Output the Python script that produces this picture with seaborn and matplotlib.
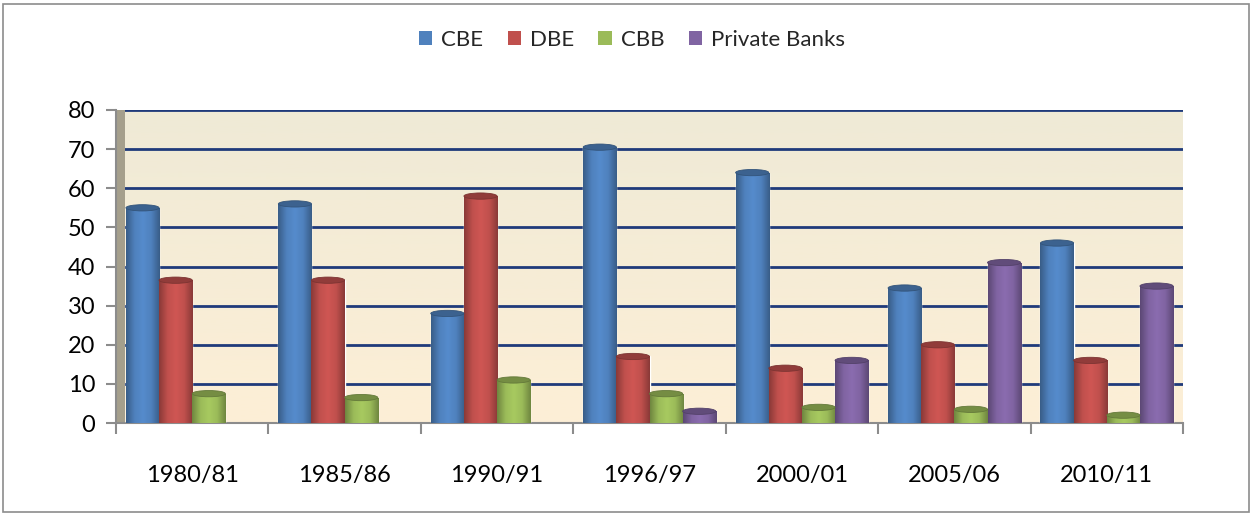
import numpy as np
import pandas as pd
import matplotlib
matplotlib.use("Agg")
import matplotlib.pyplot as plt
from matplotlib.patches import Rectangle, Ellipse, Patch
from matplotlib.colors import to_rgb, LinearSegmentedColormap
import seaborn as sns

# ---- data ----
years = ["1980/81", "1985/86", "1990/91", "1996/97", "2000/01", "2005/06", "2010/11"]
series = ["CBE", "DBE", "CBB", "Private Banks"]
cbe = [55, 56, 28, 70.5, 64, 34.5, 46]
dbe = [36.5, 36.5, 58, 17, 14, 20, 16]
cbb = [7.5, 6.5, 11, 7.5, 4, 3.5, 2]
private = [0, 0, 0, 3, 16, 41, 35]
colors = ["#4F81BD", "#C0504D", "#9BBB59", "#8064A2"]

df = pd.DataFrame({
    "year": years * 4,
    "bank": sum([[s] * len(years) for s in series], []),
    "value": cbe + dbe + cbb + private,
})

sns.set_theme(style="white")
plt.rcParams["font.family"] = ["Lato", "DejaVu Sans"]

fig = plt.figure(figsize=(12.53, 5.16), dpi=100)
ax = fig.add_axes([116 / 1253, 93 / 516, (1183 - 116) / 1253, (423 - 110) / 516])

sns.barplot(data=df, x="year", y="value", hue="bank", palette=colors,
            width=0.87, saturation=1, ax=ax, legend=False, zorder=3)

ax.set_ylim(0, 80)
ax.set_xlim(-0.5, len(years) - 0.5)
ax.set_yticks(range(0, 81, 10))

# background gradient
grad = np.linspace(0, 1, 256).reshape(-1, 1)
bg_cmap = LinearSegmentedColormap.from_list("bg", ["#FDEFD6", "#EFEAD6"])
ax.imshow(grad, extent=[-0.5, len(years) - 0.5, 0, 80], origin="lower",
          cmap=bg_cmap, aspect="auto", zorder=0)

# gridlines
for v in range(0, 81, 10):
    ax.axhline(v, color="#1F3A7A", lw=2.0, zorder=1)

# cylinder shading on bars
for patch in list(ax.patches):
    x, y = patch.get_x(), patch.get_y()
    w, h = patch.get_width(), patch.get_height()
    if h <= 0:
        patch.set_visible(False)
        continue
    base = np.array(to_rgb(patch.get_facecolor()))
    dark = base * 0.72
    light = np.clip(base * 1.08, 0, 1)
    cmap = LinearSegmentedColormap.from_list("cyl", [dark, base, light, base, dark])
    im = ax.imshow(np.linspace(0, 1, 64).reshape(1, -1), cmap=cmap,
                   extent=[x, x + w, y, y + h], aspect="auto", zorder=3.5)
    im.set_clip_path(patch)
    ax.add_patch(Ellipse((x + w / 2, y + h), w, 1.6, facecolor=dark * 1.05,
                         edgecolor=dark * 0.9, lw=0.6, zorder=4))
    ax.add_patch(Ellipse((x + w / 2, y), w, 1.6, facecolor=base * 0.85,
                         edgecolor="none", zorder=3.4))

ax.set_xlim(-0.5, len(years) - 0.5)
ax.set_ylim(0, 80)

# side wall strip
ax.add_patch(Rectangle((0, 0), 0.008, 1, transform=ax.transAxes,
                       facecolor="#A59F8C", edgecolor="none", zorder=2, clip_on=False))

for s in ["top", "right"]:
    ax.spines[s].set_visible(False)
for s in ["left", "bottom"]:
    ax.spines[s].set_color("#8C8C8C")
    ax.spines[s].set_linewidth(1.5)

ax.set_xlabel("")
ax.set_ylabel("")
ax.set_xticks(range(len(years)))
ax.set_xticklabels(years)
ax.tick_params(axis="x", length=0, pad=30, labelsize=17, colors="#000000")
ax.tick_params(axis="y", length=7, width=1.5, color="#8C8C8C", pad=8,
               labelsize=17, labelcolor="#000000", left=True)
# category separators on x axis
ax.set_xticks(np.arange(-0.5, len(years) + 0.5, 1), minor=True)
ax.tick_params(axis="x", which="minor", length=8, width=1.5, color="#8C8C8C", bottom=True)

handles = [Patch(facecolor=c, edgecolor="none") for c in colors]
fig.legend(handles, series, loc="center", bbox_to_anchor=(632 / 1253, 1 - 40 / 516),
           ncol=4, frameon=False, fontsize=16, handlelength=0.6, handleheight=0.6,
           handletextpad=0.4, columnspacing=1.1)

fig.patches.append(Rectangle((3 / 1253, 4 / 516), 1 - 7 / 1253, 1 - 8 / 516,
                             transform=fig.transFigure, facecolor="none",
                             edgecolor="#8C8C8C", lw=1.2))

fig.savefig("out.png", dpi=100)
